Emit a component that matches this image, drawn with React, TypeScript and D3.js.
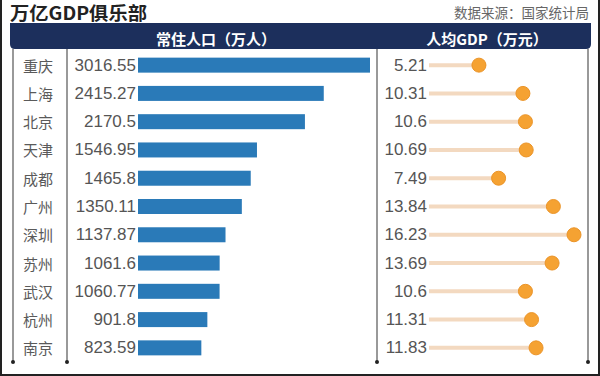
import React from "react";
import * as d3 from "d3";

const cities = ["重庆", "上海", "北京", "天津", "成都", "广州", "深圳", "苏州", "武汉", "杭州", "南京"];
const population = [3016.55, 2415.27, 2170.5, 1546.95, 1465.8, 1350.11, 1137.87, 1061.6, 1060.77, 901.8, 823.59];
const popLabels = ["3016.55", "2415.27", "2170.5", "1546.95", "1465.8", "1350.11", "1137.87", "1061.6", "1060.77", "901.8", "823.59"];
const gdpPerCapita = [5.21, 10.31, 10.6, 10.69, 7.49, 13.84, 16.23, 13.69, 10.6, 11.31, 11.83];
const gdpLabels = ["5.21", "10.31", "10.6", "10.69", "7.49", "13.84", "16.23", "13.69", "10.6", "11.31", "11.83"];

const W = 600;
const H = 376;

export default function App() {
  const y = d3.scaleBand<string>().domain(cities).range([51, 362]).paddingInner(0).paddingOuter(0);
  const xPop = d3.scaleLinear().domain([0, 3016.55]).range([138, 370]);
  const xGdp = d3.scaleLinear().domain([0, 16.23]).range([434, 574]);
  const cy = (c: string) => (y(c) as number) + y.bandwidth() / 2;
  const numFont = "'Liberation Sans', Arial, sans-serif";
  const cjkFont = "'Noto Sans CJK SC', sans-serif";
  const hx0 = 10, hx1 = 591, hy0 = 23, hy1 = 49, r = 5;
  const headerPath = `M${hx0},${hy0} H${hx1} V${hy1 - r} Q${hx1},${hy1} ${hx1 - r},${hy1} H${hx0 + r} Q${hx0},${hy1} ${hx0},${hy1 - r} Z`;
  const vlines = [13, 67, 377, 588];
  return (
    <svg width={W} height={H} style={{ position: "absolute", left: 0, top: 0, background: "#fff" }}>
      <rect x={0} y={0} width={W} height={H} fill="#fff" />
      <text x={10} y={20} fontFamily={cjkFont} fontWeight={700} fontSize={18} fill="#222" textLength={137} lengthAdjust="spacingAndGlyphs">万亿GDP俱乐部</text>
      <text x={589} y={18} textAnchor="end" fontFamily={cjkFont} fontSize={13.5} fill="#666">数据来源：国家统计局</text>
      <path d={headerPath} fill="#1c2f5c" />
      <text x={216} y={38} textAnchor="middle" dominantBaseline="central" fontFamily={cjkFont} fontWeight={700} fontSize={15} fill="#fff">常住人口（万人）</text>
      <text x={487} y={38} textAnchor="middle" dominantBaseline="central" fontFamily={cjkFont} fontWeight={700} fontSize={15} fill="#fff">人均GDP（万元）</text>
      {vlines.map((x) => (
        <g key={x}>
          <line x1={x} x2={x} y1={49} y2={362} stroke="#777" strokeWidth={1.5} />
          <circle cx={x} cy={362} r={2} fill="#222" />
        </g>
      ))}
      {cities.map((c, i) => (
        <g key={c}>
          <text x={38} y={cy(c)} textAnchor="middle" dominantBaseline="central" fontFamily={cjkFont} fontSize={15} fill="#5a5a5a">{c}</text>
          <text x={136} y={cy(c)} textAnchor="end" dominantBaseline="central" fontFamily={numFont} fontSize={17} fill="#555">{popLabels[i]}</text>
          <rect x={xPop(0)} y={cy(c) - 7.5} width={xPop(population[i]) - xPop(0)} height={15} fill="#2a7ab8" />
          <text x={427} y={cy(c)} textAnchor="end" dominantBaseline="central" fontFamily={numFont} fontSize={17} fill="#555">{gdpLabels[i]}</text>
          <line x1={429} x2={xGdp(gdpPerCapita[i])} y1={cy(c)} y2={cy(c)} stroke="#f3d9c0" strokeWidth={4} />
          <circle cx={xGdp(gdpPerCapita[i])} cy={cy(c)} r={7} fill="#f5a232" stroke="#eb9428" strokeWidth={1} />
        </g>
      ))}
      <line x1={1} x2={1} y1={0} y2={H} stroke="#222" strokeWidth={2} />
      <line x1={W - 1} x2={W - 1} y1={0} y2={H} stroke="#222" strokeWidth={2} />
      <line x1={0} x2={W} y1={H - 1} y2={H - 1} stroke="#222" strokeWidth={2} />
    </svg>
  );
}
